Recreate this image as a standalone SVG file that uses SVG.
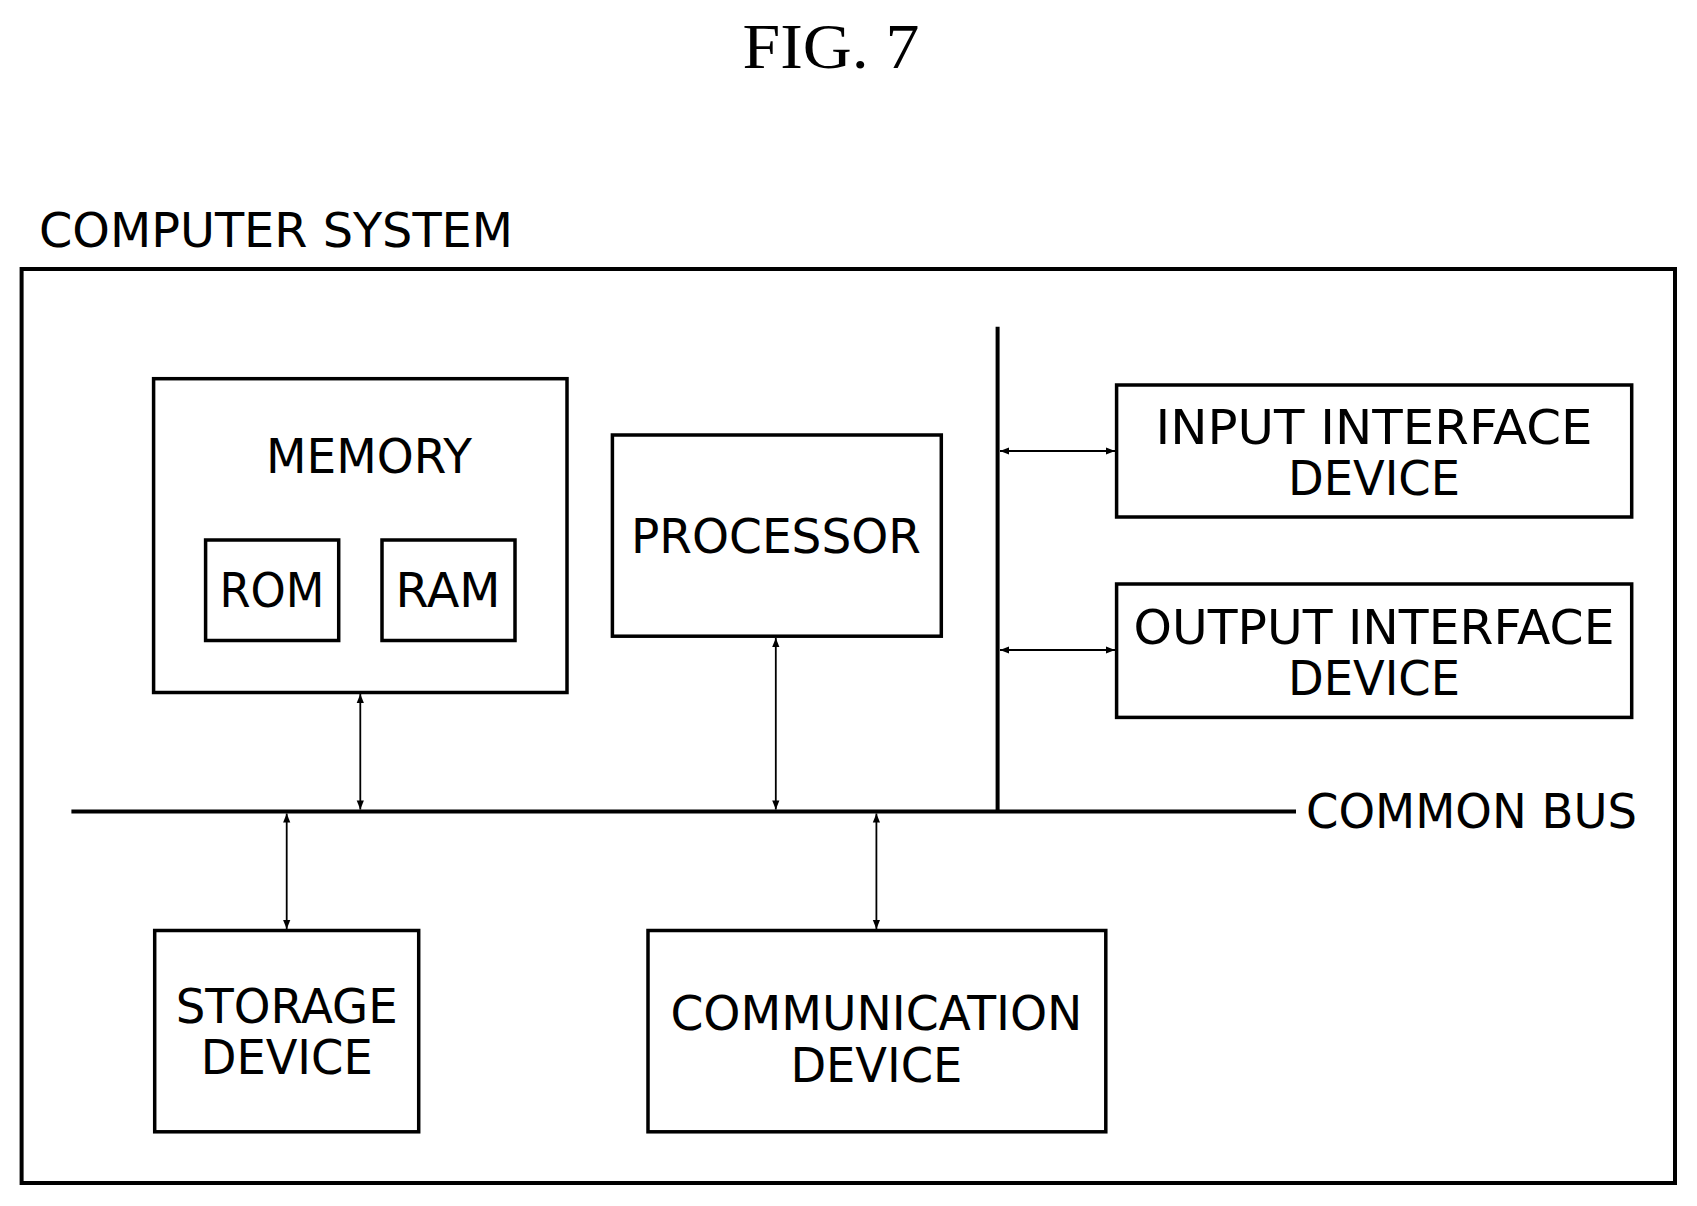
<svg xmlns="http://www.w3.org/2000/svg" width="1697" height="1206" viewBox="0 0 1697 1206">
<style>
.b{fill:none;stroke:#000;stroke-width:3.5}
.t{font-family:"DejaVu Sans",sans-serif;font-size:48px;text-anchor:middle;fill:#000}
.c{stroke:#000;stroke-width:1.8;fill:none;marker-start:url(#a);marker-end:url(#a)}
</style>
<defs><marker id="a" viewBox="0 0 10 10" refX="10" refY="5" markerWidth="14" markerHeight="9" markerUnits="userSpaceOnUse" orient="auto-start-reverse"><path d="M0,1 L10,5 L0,9 Z" fill="#000"/></marker></defs>
<rect width="1697" height="1206" fill="#fff"/>
<text x="831" y="68" style="font-family:'Liberation Serif',serif;font-size:64px;text-anchor:middle" textLength="177" lengthAdjust="spacingAndGlyphs">FIG. 7</text>
<g id="system"><text x="39" y="247" style="font-family:'DejaVu Sans',sans-serif;font-size:48px" textLength="474" lengthAdjust="spacingAndGlyphs">COMPUTER SYSTEM</text>
<rect class="b" x="21.6" y="269" width="1653.4" height="914" style="stroke-width:4"/></g>
<g id="memory"><rect class="b" x="153.6" y="378.7" width="413.4" height="313.8"/>
<text class="t" x="369" y="473" textLength="206" lengthAdjust="spacingAndGlyphs">MEMORY</text></g>
<g id="rom"><rect class="b" x="205.6" y="540" width="133.1" height="100.5"/><text class="t" x="272" y="607" textLength="105" lengthAdjust="spacingAndGlyphs">ROM</text></g>
<g id="ram"><rect class="b" x="382" y="540" width="133" height="100.5"/><text class="t" x="448" y="607" textLength="105" lengthAdjust="spacingAndGlyphs">RAM</text></g>
<g id="processor"><rect class="b" x="612.4" y="435" width="328.9" height="201.2"/><text class="t" x="776" y="553" textLength="290" lengthAdjust="spacingAndGlyphs">PROCESSOR</text></g>
<g id="input"><rect class="b" x="1116.6" y="385" width="515.1" height="132"/>
<text class="t" x="1374" y="443.6" textLength="437" lengthAdjust="spacingAndGlyphs">INPUT INTERFACE</text>
<text class="t" x="1374" y="494.5" textLength="172" lengthAdjust="spacingAndGlyphs">DEVICE</text></g>
<g id="output"><rect class="b" x="1116.6" y="584" width="515.1" height="133.4"/>
<text class="t" x="1374" y="643.8" textLength="481" lengthAdjust="spacingAndGlyphs">OUTPUT INTERFACE</text>
<text class="t" x="1374" y="694.6" textLength="172" lengthAdjust="spacingAndGlyphs">DEVICE</text></g>
<g id="storage"><rect class="b" x="154.7" y="930.5" width="264" height="201.3"/>
<text class="t" x="286.7" y="1022.5" textLength="222" lengthAdjust="spacingAndGlyphs">STORAGE</text>
<text class="t" x="286.7" y="1074.4" textLength="172" lengthAdjust="spacingAndGlyphs">DEVICE</text></g>
<g id="communication"><rect class="b" x="648" y="930.5" width="457.8" height="201.3"/>
<text class="t" x="876.4" y="1030" textLength="412" lengthAdjust="spacingAndGlyphs">COMMUNICATION</text>
<text class="t" x="876.4" y="1082" textLength="172" lengthAdjust="spacingAndGlyphs">DEVICE</text></g>
<g id="bus"><line x1="71.4" y1="811.5" x2="1296" y2="811.5" stroke="#000" stroke-width="4"/>
<line x1="997.6" y1="326.8" x2="997.6" y2="811.5" stroke="#000" stroke-width="4"/>
<text x="1306" y="828" style="font-family:'DejaVu Sans',sans-serif;font-size:48px" textLength="331" lengthAdjust="spacingAndGlyphs">COMMON BUS</text></g>
<g id="connectors">
<line class="c" x1="1000" y1="451" x2="1115" y2="451"/>
<line class="c" x1="1000" y1="650" x2="1115" y2="650"/>
<line class="c" x1="360.3" y1="694" x2="360.3" y2="809.5"/>
<line class="c" x1="775.8" y1="638" x2="775.8" y2="809.5"/>
<line class="c" x1="286.7" y1="813.5" x2="286.7" y2="929"/>
<line class="c" x1="876.4" y1="813.5" x2="876.4" y2="929"/>
</g>
</svg>
